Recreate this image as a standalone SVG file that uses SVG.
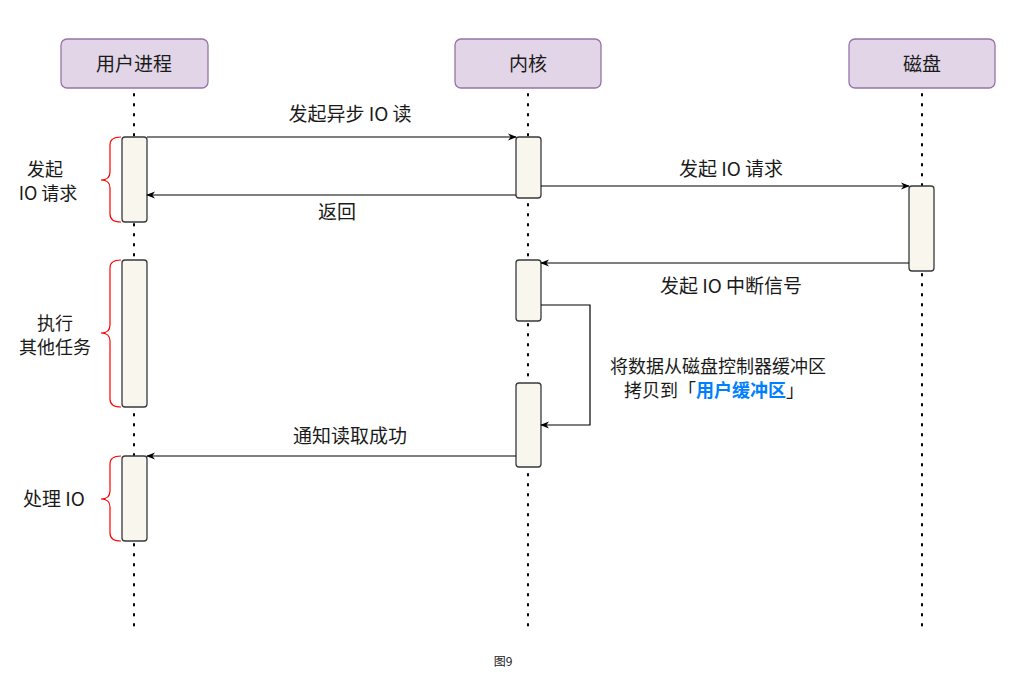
<svg xmlns="http://www.w3.org/2000/svg" width="1013" height="688" viewBox="0 0 1013 688">
<defs>
<marker id="arr" viewBox="0 0 10 10" refX="9" refY="5" markerWidth="9" markerHeight="9" markerUnits="userSpaceOnUse" orient="auto">
<path d="M0,1 L10,5 L0,9 L3,5 Z" fill="#000"/>
</marker>
<style>
.head{fill:#e1d5e7;stroke:#9673a6;stroke-width:1.3}
.act{fill:#f9f7ed;stroke:#36393d;stroke-width:1.3}
.life{stroke:#000;stroke-width:2;stroke-dasharray:1.5 8.5;stroke-linecap:round;fill:none}
.msg{stroke:#000;stroke-width:1.2;fill:none;marker-end:url(#arr)}
.brace{stroke:#ff0000;stroke-width:1.2;fill:none}
text{font-family:"Noto Sans CJK SC","Liberation Sans",sans-serif;font-size:19px;fill:#1a1a1a;text-anchor:middle}
.ml{font-size:18px}
.cap{font-size:12px}
.blue{fill:#007fff;font-weight:bold}
</style>
</defs>
<rect width="1013" height="688" fill="#fff"/>
<g id="lifelines">
<line class="life" x1="134" y1="94" x2="134" y2="630"/>
<line class="life" x1="528" y1="94" x2="528" y2="630"/>
<line class="life" x1="922" y1="94" x2="922" y2="630"/>
</g>
<g id="user-head"><rect class="head" x="61" y="39" width="147" height="49" rx="6"/><text x="134" y="71">用户进程</text></g>
<g id="kernel-head"><rect class="head" x="455" y="39" width="146" height="49" rx="6"/><text x="528" y="71">内核</text></g>
<g id="disk-head"><rect class="head" x="849" y="39" width="146" height="49" rx="6"/><text x="922" y="71">磁盘</text></g>
<g id="user-act1"><rect class="act" x="122" y="137" width="25" height="85" rx="3"/></g>
<g id="user-act2"><rect class="act" x="122" y="260" width="25" height="147" rx="3"/></g>
<g id="user-act3"><rect class="act" x="122" y="456" width="25" height="85" rx="3"/></g>
<g id="kernel-act1"><rect class="act" x="516" y="137" width="25" height="61" rx="3"/></g>
<g id="kernel-act2"><rect class="act" x="516" y="260" width="25" height="61" rx="3"/></g>
<g id="kernel-act3"><rect class="act" x="516" y="383" width="25" height="84" rx="3"/></g>
<g id="disk-act1"><rect class="act" x="909" y="186" width="25" height="85" rx="3"/></g>
<g id="connectors">
<line class="msg" x1="147" y1="137" x2="516" y2="137"/>
<line class="msg" x1="516" y1="195" x2="147" y2="195"/>
<line class="msg" x1="541" y1="186" x2="909" y2="186"/>
<line class="msg" x1="909" y1="263" x2="541" y2="263"/>
<path class="msg" d="M541,305 H590 V425 H541"/>
<line class="msg" x1="516" y1="456" x2="147" y2="456"/>
</g>
<g id="labels">
<text x="350" y="121">发起异步 IO 读</text>
<text x="337" y="219">返回</text>
<text x="731" y="176">发起 IO 请求</text>
<text x="731" y="293">发起 IO 中断信号</text>
<text class="ml" x="718" y="373">将数据从磁盘控制器缓冲区</text>
<text class="ml" x="714" y="397">拷贝到「<tspan class="blue">用户缓冲区</tspan>」</text>
<text x="350" y="443">通知读取成功</text>
</g>
<g id="brace1"><path class="brace" d="M121,137 Q110,137 110,145 V172 Q110,180 101,180 Q110,180 110,188 V214 Q110,222 121,222"/><text class="ml" x="45" y="176">发起</text><text class="ml" x="48" y="200">IO 请求</text></g>
<g id="brace2"><path class="brace" d="M121,260 Q110,260 110,268 V325 Q110,333 101,333 Q110,333 110,341 V399 Q110,407 121,407"/><text class="ml" x="55" y="330">执行</text><text class="ml" x="55" y="354">其他任务</text></g>
<g id="brace3"><path class="brace" d="M121,456 Q110,456 110,464 V491 Q110,499 101,499 Q110,499 110,507 V533 Q110,541 121,541"/><text x="54" y="506">处理 IO</text></g>
<text class="cap" x="503" y="666">图9</text>
</svg>
